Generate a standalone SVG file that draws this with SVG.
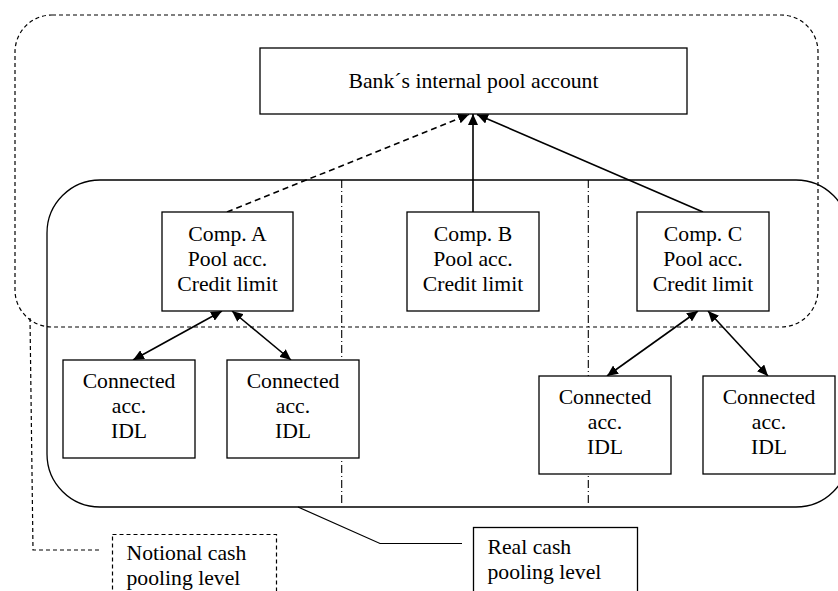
<svg xmlns="http://www.w3.org/2000/svg" width="838" height="591" viewBox="0 0 838 591">
  <style>
    text { font-family: "Liberation Serif", "Times New Roman", serif; font-size: 21.7px; fill: #000; }
    .c { text-anchor: middle; }
    .box { fill: #fff; stroke: #000; stroke-width: 1.3; }
    .dbox { fill: #fff; stroke: #000; stroke-width: 1.2; stroke-dasharray: 4 3; }
    .edge { fill: none; stroke: #000; stroke-width: 1.6; }
    .dashed { stroke-dasharray: 6 4; }
    .frame { fill: none; stroke: #000; stroke-width: 1.2; stroke-dasharray: 4 3; }
    .realframe { fill: none; stroke: #000; stroke-width: 1.3; }
    .divider { fill: none; stroke: #000; stroke-width: 1.1; stroke-dasharray: 8 3 1 3; }
    .lead { fill: none; stroke: #000; stroke-width: 1.2; }
  </style>
  <defs>
    <marker id="arrow" markerUnits="userSpaceOnUse" markerWidth="12" markerHeight="10" refX="11" refY="5" orient="auto-start-reverse">
      <path d="M0,0 L11,5 L0,10 Z" fill="#000"/>
    </marker>
  </defs>

  <rect width="838" height="591" fill="#fff"/>

  <!-- pooling level frames -->
  <g id="frames">
    <rect class="realframe" x="47" y="180" width="802" height="327" rx="53" ry="53"/>
    <rect class="frame" x="15" y="15" width="803" height="312" rx="37" ry="37"/>
    <line class="divider" x1="341.7" y1="180" x2="341.7" y2="503"/>
    <line class="divider" x1="588.3" y1="180" x2="588.3" y2="503"/>
  </g>

  <!-- connectors -->
  <g id="connectors">
    <line class="edge dashed" x1="227" y1="212" x2="469" y2="114.5" marker-end="url(#arrow)"/>
    <line class="edge" x1="473" y1="212" x2="473" y2="114" marker-end="url(#arrow)"/>
    <line class="edge" x1="703" y1="212" x2="477" y2="114.5" marker-end="url(#arrow)"/>
    <line class="edge" x1="222" y1="311" x2="133" y2="360" marker-start="url(#arrow)" marker-end="url(#arrow)"/>
    <line class="edge" x1="232" y1="311" x2="291" y2="360" marker-start="url(#arrow)" marker-end="url(#arrow)"/>
    <line class="edge" x1="698" y1="311" x2="607" y2="376" marker-start="url(#arrow)" marker-end="url(#arrow)"/>
    <line class="edge" x1="708" y1="311" x2="768" y2="376" marker-start="url(#arrow)" marker-end="url(#arrow)"/>
    <polyline class="lead" points="298,507 380,543.5 462,543.5"/>
    <polyline class="lead" stroke-dasharray="4 3" points="30,318 33,550 102,550"/>
  </g>

  <g id="bank-pool">
    <rect class="box" x="260" y="48" width="427" height="66"/>
    <text class="c" x="473.5" y="87.5">Bank´s internal pool account</text>
  </g>

  <g id="comp-a">
    <rect class="box" x="162" y="212" width="131" height="99"/>
    <text class="c" x="227.5" y="241">Comp. A</text>
    <text class="c" x="227.5" y="266">Pool acc.</text>
    <text class="c" x="227.5" y="291">Credit limit</text>
  </g>

  <g id="comp-b">
    <rect class="box" x="407" y="212" width="132" height="99"/>
    <text class="c" x="473" y="241">Comp. B</text>
    <text class="c" x="473" y="266">Pool acc.</text>
    <text class="c" x="473" y="291">Credit limit</text>
  </g>

  <g id="comp-c">
    <rect class="box" x="637" y="212" width="132" height="99"/>
    <text class="c" x="703" y="241">Comp. C</text>
    <text class="c" x="703" y="266">Pool acc.</text>
    <text class="c" x="703" y="291">Credit limit</text>
  </g>

  <g id="connected-a1">
    <rect class="box" x="63" y="360" width="132" height="98"/>
    <text class="c" x="129" y="387.5">Connected</text>
    <text class="c" x="129" y="412.5">acc.</text>
    <text class="c" x="129" y="437.5">IDL</text>
  </g>

  <g id="connected-a2">
    <rect class="box" x="227" y="360" width="132" height="98"/>
    <text class="c" x="293" y="387.5">Connected</text>
    <text class="c" x="293" y="412.5">acc.</text>
    <text class="c" x="293" y="437.5">IDL</text>
  </g>

  <g id="connected-c1">
    <rect class="box" x="539" y="376" width="132" height="98"/>
    <text class="c" x="605" y="404">Connected</text>
    <text class="c" x="605" y="429">acc.</text>
    <text class="c" x="605" y="454">IDL</text>
  </g>

  <g id="connected-c2">
    <rect class="box" x="703" y="376" width="132" height="98"/>
    <text class="c" x="769" y="404">Connected</text>
    <text class="c" x="769" y="429">acc.</text>
    <text class="c" x="769" y="454">IDL</text>
  </g>

  <g id="notional-level">
    <rect class="dbox" x="112.5" y="534.5" width="164" height="70"/>
    <text x="126.5" y="560">Notional cash</text>
    <text x="126.5" y="585">pooling level</text>
  </g>

  <g id="real-level">
    <rect class="box" x="473.5" y="527.5" width="164" height="75"/>
    <text x="487.5" y="553.5">Real cash</text>
    <text x="487.5" y="578.5">pooling level</text>
  </g>
</svg>
